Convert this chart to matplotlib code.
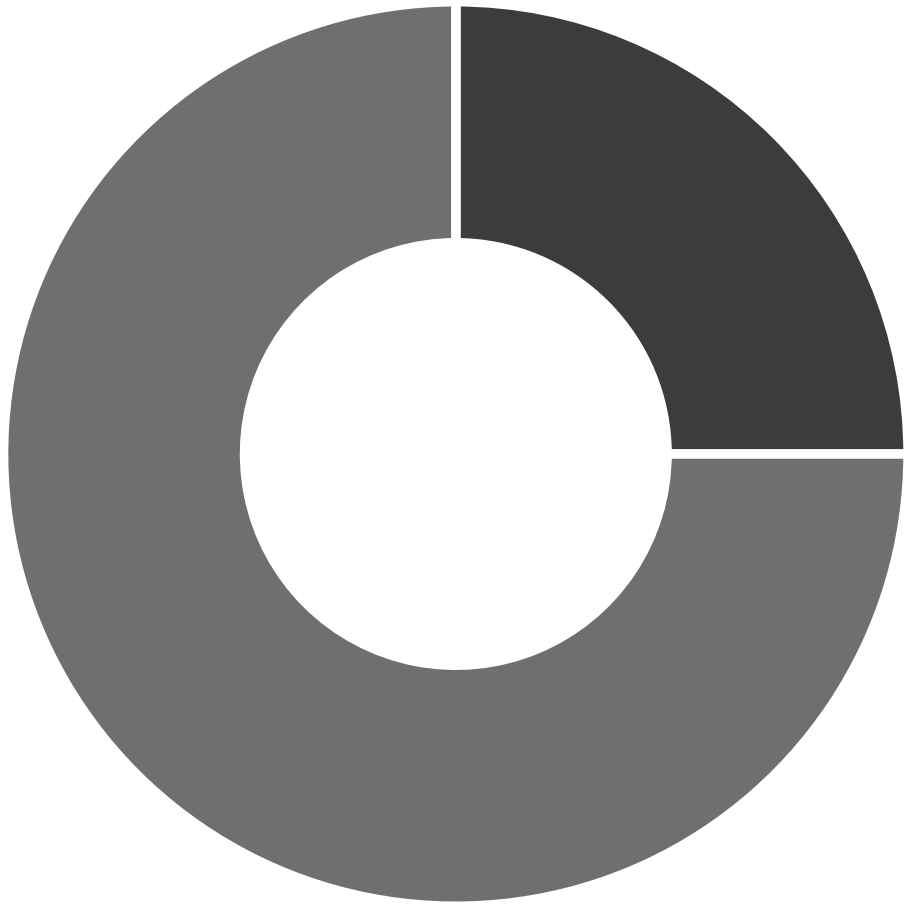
import matplotlib.pyplot as plt

# slice shares and colours
labels = ['A', 'B']
values = [25, 75]
colors = ['#3c3c3a', '#6f6f6f']

fig = plt.figure(figsize=(9.12, 9.12), dpi=100)
ax = fig.add_axes([0, 0, 1, 1])

gap_px = 9.5
lw = gap_px * 72 / 100  # points
outer = 447.5 + gap_px / 2
inner = 216 - gap_px / 2

ax.pie(
    values, colors=colors, startangle=90, counterclock=False,
    center=(455.8, 912 - 455), radius=outer, frame=True,
    wedgeprops=dict(width=outer - inner, edgecolor='white', linewidth=lw),
)

ax.set_xlim(0, 912)
ax.set_ylim(0, 912)
ax.set_aspect('equal')
ax.axis('off')

fig.savefig('out.png', dpi=100, facecolor='white')
